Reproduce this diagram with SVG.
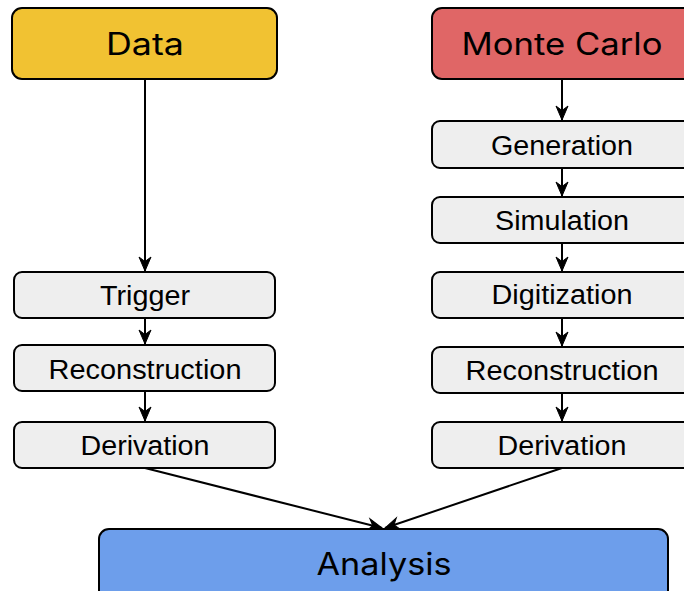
<svg xmlns="http://www.w3.org/2000/svg" width="684" height="591" viewBox="0 0 684 591">
  <style>
    .box { stroke: #000; stroke-width: 2; }
    .step { fill: #eeeeee; }
    .title { font-family: Inter, "Noto Sans", "Liberation Sans", sans-serif; font-size: 31px; fill: #000; text-anchor: middle; }
    .label { font-family: "Liberation Sans", Arial, sans-serif; font-size: 27px; fill: #000; text-anchor: middle; }
    .edge { stroke: #000; stroke-width: 2; fill: none; marker-end: url(#arrow); }
  </style>
  <defs>
    <marker id="arrow" markerUnits="userSpaceOnUse" viewBox="-16 -8 17 16" refX="0" refY="0" markerWidth="17" markerHeight="16" orient="auto">
      <path d="M0,0 L-14,-6 L-9.5,0 L-14,6 Z" fill="#000" stroke="#000" stroke-width="1" stroke-linejoin="miter"/>
    </marker>
  </defs>
  <rect width="684" height="591" fill="#ffffff"/>

  <g id="connectors">
    <line class="edge" x1="145" y1="80" x2="145" y2="271"/>
    <line class="edge" x1="145" y1="318" x2="145" y2="344"/>
    <line class="edge" x1="145" y1="391" x2="145" y2="421"/>
    <line class="edge" x1="562" y1="79" x2="562" y2="120"/>
    <line class="edge" x1="562" y1="168" x2="562" y2="196"/>
    <line class="edge" x1="562" y1="243" x2="562" y2="271"/>
    <line class="edge" x1="562" y1="318" x2="562" y2="346"/>
    <line class="edge" x1="562" y1="393" x2="562" y2="421"/>
    <line class="edge" x1="145" y1="468" x2="382" y2="528"/>
    <line class="edge" x1="562" y1="468" x2="385" y2="528"/>
  </g>

  <g id="data">
    <rect class="box" x="12" y="8" width="265" height="71" rx="10" fill="#f1c232"/>
    <text class="title" x="145" y="55" textLength="78" lengthAdjust="spacingAndGlyphs">Data</text>
  </g>
  <g id="monte-carlo">
    <rect class="box" x="432" y="8" width="262" height="71" rx="10" fill="#e06666"/>
    <text class="title" x="562" y="55" textLength="201" lengthAdjust="spacingAndGlyphs">Monte Carlo</text>
  </g>

  <g id="data-trigger">
    <rect class="box step" x="14" y="272" width="261" height="46" rx="8"/>
    <text class="label" x="145" y="305" textLength="90" lengthAdjust="spacingAndGlyphs">Trigger</text>
  </g>
  <g id="data-reconstruction">
    <rect class="box step" x="14" y="345" width="261" height="46" rx="8"/>
    <text class="label" x="145" y="379" textLength="193" lengthAdjust="spacingAndGlyphs">Reconstruction</text>
  </g>
  <g id="data-derivation">
    <rect class="box step" x="14" y="422" width="261" height="46" rx="8"/>
    <text class="label" x="145" y="455" textLength="129" lengthAdjust="spacingAndGlyphs">Derivation</text>
  </g>

  <g id="mc-generation">
    <rect class="box step" x="432" y="121" width="261" height="47" rx="8"/>
    <text class="label" x="562" y="155" textLength="142" lengthAdjust="spacingAndGlyphs">Generation</text>
  </g>
  <g id="mc-simulation">
    <rect class="box step" x="432" y="197" width="261" height="46" rx="8"/>
    <text class="label" x="562" y="230" textLength="134" lengthAdjust="spacingAndGlyphs">Simulation</text>
  </g>
  <g id="mc-digitization">
    <rect class="box step" x="432" y="272" width="261" height="46" rx="8"/>
    <text class="label" x="562" y="304" textLength="141" lengthAdjust="spacingAndGlyphs">Digitization</text>
  </g>
  <g id="mc-reconstruction">
    <rect class="box step" x="432" y="347" width="261" height="46" rx="8"/>
    <text class="label" x="562" y="380" textLength="193" lengthAdjust="spacingAndGlyphs">Reconstruction</text>
  </g>
  <g id="mc-derivation">
    <rect class="box step" x="432" y="422" width="261" height="46" rx="8"/>
    <text class="label" x="562" y="455" textLength="129" lengthAdjust="spacingAndGlyphs">Derivation</text>
  </g>

  <g id="analysis">
    <rect class="box" x="99" y="529" width="569" height="80" rx="10" fill="#6d9eeb"/>
    <text class="title" x="384" y="575" textLength="135" lengthAdjust="spacingAndGlyphs">Analysis</text>
  </g>
</svg>
